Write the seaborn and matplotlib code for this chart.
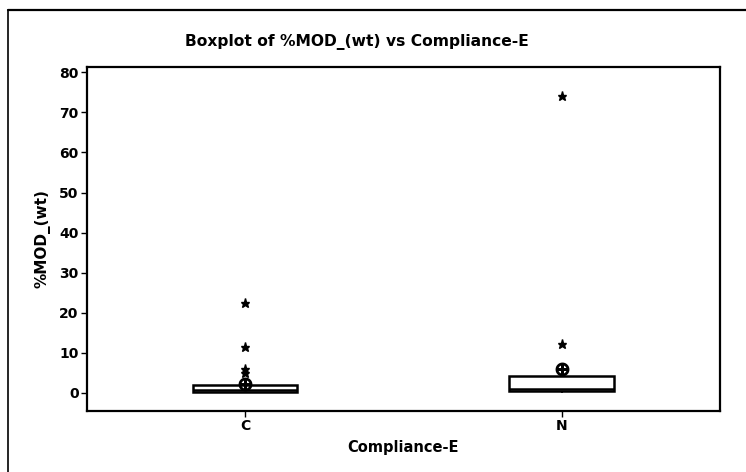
import numpy as np
import pandas as pd
import matplotlib
matplotlib.use("Agg")
import matplotlib.pyplot as plt
import seaborn as sns
from matplotlib.lines import Line2D

# raw values per compliance group
groups = ["C", "N"]
mod_c = [0.0, 0.0, 0.05, 0.1, 0.1, 0.1, 0.2, 0.2, 0.3, 0.4, 0.4, 0.5, 0.5, 0.6, 0.6,
         0.7, 0.8, 1.0, 1.2, 1.5, 1.8, 1.9, 2.0, 2.2, 2.6, 3.5,
         5.0, 6.0, 11.5, 22.5]
mod_n = [0.0, 0.1, 0.2, 0.3, 0.3, 0.4, 0.6, 0.8, 0.9, 1.0, 1.0, 1.5, 2.0, 3.0,
         4.0, 4.5, 5.5, 7.5, 12.3, 74.0]
yticks = [0, 10, 20, 30, 40, 50, 60, 70, 80]

df = pd.DataFrame({
    "Compliance-E": ["C"] * len(mod_c) + ["N"] * len(mod_n),
    "%MOD_(wt)": mod_c + mod_n,
})

sns.set_theme(style="white")
plt.rcParams["font.family"] = ["DejaVu Sans"]
plt.rcParams["text.color"] = "black"
plt.rcParams["axes.labelcolor"] = "black"
plt.rcParams["xtick.color"] = "black"
plt.rcParams["ytick.color"] = "black"

fig = plt.figure(figsize=(7.46, 4.72), dpi=100)
ax = fig.add_axes([0.1166, 0.1292, 0.965 - 0.1166, 0.858 - 0.1292])

sns.boxplot(
    data=df, x="Compliance-E", y="%MOD_(wt)", order=groups, ax=ax,
    width=0.33, color="white", linecolor="black", linewidth=1.8,
    whis=1.5, showcaps=False,
    flierprops=dict(marker="*", markersize=6.5, markerfacecolor="black",
                    markeredgecolor="black"),
    showmeans=True,
    meanprops=dict(marker=r"$\oplus$", markersize=9, markerfacecolor="black",
                   markeredgecolor="black"),
    medianprops=dict(color="black", linewidth=1.8),
    whiskerprops=dict(color="black", linewidth=1.2),
)

ax.set_xlim(-0.5, 1.5)
ax.set_ylim(-4.5, 81.3)
ax.set_yticks(yticks)
ax.tick_params(axis="both", direction="out", length=4, width=1, color="black",
               labelsize=10, pad=2, left=True, bottom=True)
for lab in ax.get_yticklabels() + ax.get_xticklabels():
    lab.set_fontweight("bold")
for s in ax.spines.values():
    s.set_color("black")
    s.set_linewidth(1.6)

ax.set_ylabel("%MOD_(wt)", fontsize=11, fontweight="bold", labelpad=6)
ax.set_xlabel("Compliance-E", fontsize=10.5, fontweight="bold", labelpad=5)

fig.text(357 / 746, 1 - 42 / 472, "Boxplot of %MOD_(wt) vs Compliance-E",
         ha="center", va="center", fontsize=11.2, fontweight="bold")

# outer frame of the graph window (left and top edges visible)
fig.add_artist(Line2D([8 / 746, 8 / 746], [0, 1 - 10 / 472],
                      transform=fig.transFigure, color="black", lw=1.2))
fig.add_artist(Line2D([8 / 746, 1], [1 - 10 / 472, 1 - 10 / 472],
                      transform=fig.transFigure, color="black", lw=1.6))

fig.savefig("out.png", dpi=100)
